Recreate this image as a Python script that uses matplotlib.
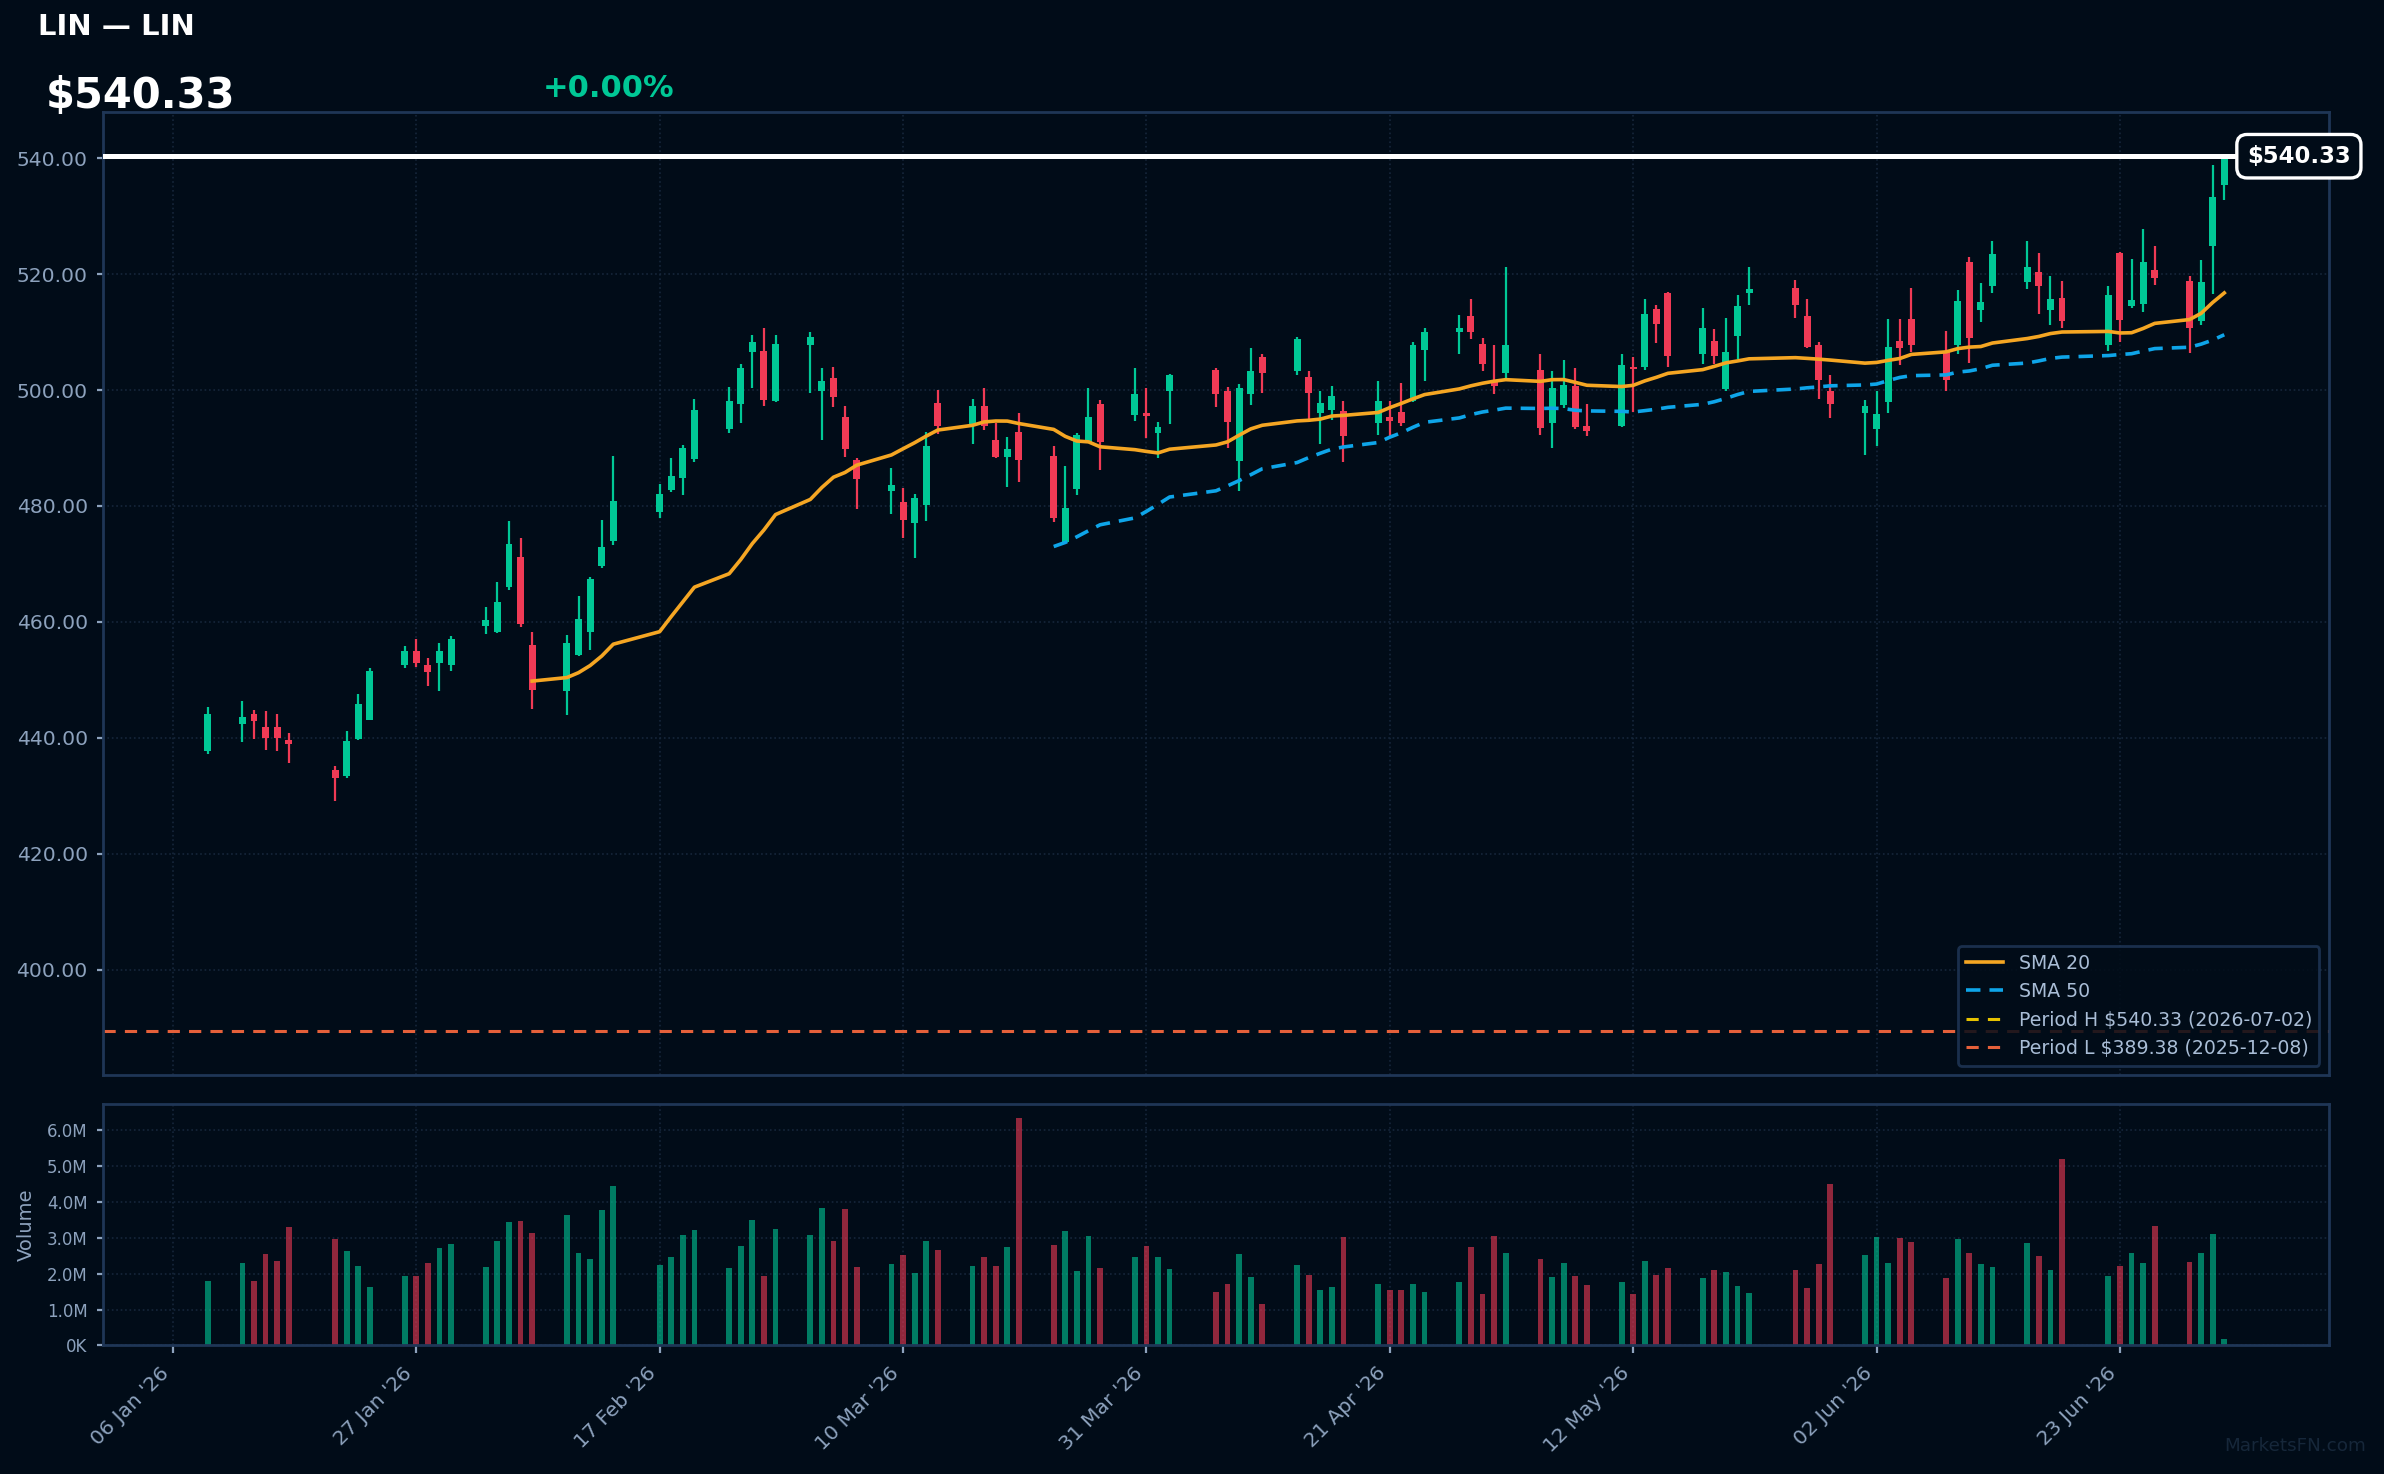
import matplotlib
matplotlib.use("Agg")
import matplotlib.pyplot as plt
import matplotlib.dates as mdates
from matplotlib.ticker import FuncFormatter, MultipleLocator, FixedLocator
from matplotlib.transforms import blended_transform_factory
import numpy as np
import pandas as pd

ticker = "LIN"
change_text = "+0.00%"
period_high = 540.33
period_high_date = "2026-07-02"
period_low = 389.38
period_low_date = "2025-12-08"

# US market holidays inside the window
holidays = ["2026-01-19", "2026-02-16", "2026-04-03", "2026-05-25", "2026-06-19"]
dates = pd.bdate_range("2026-01-09", "2026-07-02", freq="C", holidays=holidays)

opens = [437.68, 442.39, 444.04, 441.94, 441.80, 439.55, 434.39, 433.42, 439.78, 443.14,
         452.49, 455.03, 452.64, 452.86, 452.57, 459.30, 458.25, 466.03, 471.11, 455.93,
         448.08, 454.21, 458.32, 469.69, 474.03, 478.97, 482.71, 484.80, 488.02, 493.33,
         497.52, 506.57, 506.79, 498.12, 507.69, 499.84, 502.15, 495.42, 487.87, 482.56,
         480.76, 477.02, 480.09, 497.82, 494.00, 497.29, 491.31, 488.39, 492.80, 488.69,
         473.73, 482.93, 491.01, 497.52, 495.65, 496.10, 492.58, 499.84, 503.50, 499.76,
         487.72, 499.31, 505.74, 503.35, 502.30, 496.10, 496.47, 496.40, 494.38, 495.35,
         496.25, 498.04, 506.94, 510.01, 512.85, 507.99, 501.33, 502.98, 503.50, 494.38,
         497.37, 500.73, 493.85, 493.78, 504.02, 503.95, 513.90, 516.66, 506.19, 508.51,
         500.13, 509.26, 516.74, 517.56, 512.85, 507.69, 499.84, 496.10, 493.25, 497.89,
         508.51, 512.18, 506.79, 507.69, 522.12, 513.75, 518.01, 518.68, 520.40, 513.75,
         515.92, 507.69, 523.70, 514.42, 514.87, 520.78, 518.83, 511.95, 524.89, 535.36]
highs = [445.24, 446.28, 444.86, 444.56, 444.19, 440.75, 435.21, 441.12, 447.48, 452.12,
         455.78, 457.13, 453.69, 456.30, 457.50, 462.51, 466.93, 477.47, 474.55, 458.17,
         457.65, 464.38, 467.82, 477.62, 488.69, 483.83, 488.32, 490.56, 498.50, 500.58,
         504.55, 509.56, 510.61, 509.56, 510.08, 503.72, 504.02, 497.29, 488.32, 486.60,
         483.16, 482.11, 492.73, 500.06, 498.49, 500.43, 494.38, 491.83, 495.95, 490.41,
         486.97, 492.51, 500.43, 498.34, 503.72, 500.28, 494.45, 502.68, 503.72, 500.58,
         501.03, 507.16, 506.27, 509.18, 503.35, 499.76, 500.73, 498.04, 501.48, 498.04,
         501.26, 508.36, 510.61, 513.00, 515.62, 509.03, 507.69, 521.30, 506.27, 503.20,
         505.22, 503.72, 497.67, 506.27, 505.74, 515.77, 514.72, 516.96, 514.20, 510.46,
         512.48, 516.44, 521.30, 519.06, 515.77, 508.36, 502.60, 498.34, 499.91, 512.18,
         512.18, 517.64, 510.23, 517.19, 522.87, 518.53, 525.79, 525.79, 523.70, 519.58,
         518.83, 518.01, 523.85, 522.65, 527.81, 524.89, 519.73, 522.50, 538.88, 540.33]
lows = [437.16, 439.25, 439.85, 437.83, 437.68, 435.66, 429.08, 433.04, 439.70, 442.99,
        451.97, 452.27, 448.90, 448.08, 451.52, 457.88, 458.10, 465.50, 459.07, 444.94,
        443.89, 454.10, 455.11, 469.24, 473.28, 477.85, 482.33, 481.96, 487.64, 492.51,
        494.23, 500.30, 497.22, 498.00, 499.40, 491.31, 496.99, 488.39, 479.42, 478.59,
        474.48, 471.04, 477.40, 492.36, 490.64, 493.10, 488.24, 483.23, 484.13, 477.25,
        473.36, 481.88, 490.90, 486.15, 494.60, 491.68, 488.24, 494.15, 497.07, 489.96,
        482.56, 497.37, 499.46, 502.60, 494.45, 490.64, 494.75, 487.64, 492.28, 492.13,
        493.78, 497.89, 501.48, 506.27, 508.74, 503.20, 499.39, 502.00, 492.28, 490.04,
        496.84, 493.25, 491.98, 493.63, 496.25, 503.42, 508.06, 503.95, 504.40, 504.55,
        499.84, 505.37, 514.65, 512.40, 507.31, 498.41, 495.12, 488.77, 490.26, 496.02,
        504.32, 506.57, 499.76, 506.19, 504.70, 511.65, 516.81, 517.49, 513.15, 511.13,
        510.76, 506.79, 508.36, 514.12, 513.52, 518.09, 506.42, 511.28, 516.59, 532.74]
closes = [444.19, 443.66, 442.92, 440.05, 439.95, 438.95, 433.04, 439.40, 445.76, 451.59,
          455.03, 452.86, 451.37, 455.03, 456.98, 460.27, 463.49, 473.36, 459.60, 448.23,
          456.30, 460.57, 467.45, 472.83, 480.91, 482.11, 485.25, 490.04, 496.47, 498.04,
          503.87, 508.21, 498.27, 507.99, 509.18, 501.63, 498.86, 489.74, 484.65, 483.53,
          477.62, 481.44, 490.26, 493.78, 497.29, 493.78, 488.39, 489.74, 487.94, 477.92,
          479.72, 492.21, 495.42, 491.01, 499.24, 495.50, 493.70, 502.53, 499.31, 494.45,
          500.36, 503.20, 502.90, 508.74, 499.46, 497.82, 499.01, 491.98, 498.04, 494.60,
          494.38, 507.84, 510.08, 510.61, 509.93, 504.40, 500.73, 507.84, 493.40, 500.28,
          500.81, 493.55, 492.88, 504.25, 503.65, 513.15, 511.35, 505.82, 510.76, 505.82,
          506.49, 514.42, 517.41, 514.65, 507.46, 501.71, 497.59, 497.22, 495.80, 507.46,
          507.16, 507.69, 501.71, 515.39, 508.89, 515.24, 523.40, 521.30, 517.94, 515.77,
          511.88, 516.44, 512.03, 515.54, 522.12, 519.28, 510.76, 518.68, 533.34, 540.33]
# volume in millions of shares
volumes_m = [1.80, 2.30, 1.80, 2.55, 2.35, 3.30, 2.96, 2.63, 2.21, 1.63,
             1.94, 1.94, 2.30, 2.71, 2.82, 2.19, 2.91, 3.44, 3.46, 3.13,
             3.63, 2.57, 2.41, 3.77, 4.44, 2.24, 2.46, 3.07, 3.21, 2.16,
             2.77, 3.49, 1.94, 3.24, 3.07, 3.82, 2.91, 3.80, 2.19, 2.27,
             2.52, 2.02, 2.91, 2.66, 2.21, 2.46, 2.21, 2.74, 6.35, 2.80,
             3.19, 2.07, 3.05, 2.16, 2.46, 2.77, 2.46, 2.13, 1.49, 1.71,
             2.55, 1.91, 1.16, 2.24, 1.96, 1.55, 1.63, 3.02, 1.71, 1.55,
             1.55, 1.71, 1.49, 1.77, 2.74, 1.44, 3.05, 2.57, 2.41, 1.91,
             2.30, 1.94, 1.69, 1.77, 1.44, 2.35, 1.96, 2.16, 1.88, 2.10,
             2.05, 1.66, 1.46, 2.10, 1.60, 2.27, 4.49, 2.52, 3.02, 2.30,
             2.99, 2.88, 1.88, 2.96, 2.57, 2.27, 2.19, 2.85, 2.49, 2.10,
             5.21, 1.94, 2.21, 2.57, 2.30, 3.32, 2.32, 2.57, 3.10, 0.19]

BG = "#010c18"
UP = "#00c896"
DOWN = "#f03a55"
GRID = "#16263a"
SPINE = "#1f3656"
TXT = "#8da2bd"

o = np.array(opens)
h = np.array(highs)
l = np.array(lows)
c = np.array(closes)
vol = np.array(volumes_m) * 1e6
up = c >= o
cols = np.where(up, UP, DOWN)

sma20 = pd.Series(c).rolling(20).mean()
sma50 = pd.Series(c).rolling(50).mean()

fig = plt.figure(figsize=(11.92, 7.37), dpi=200, facecolor=BG)
ax = fig.add_axes([0.0432, 0.2707, 0.9337, 0.653], facecolor=BG)
axv = fig.add_axes([0.0432, 0.0872, 0.9337, 0.1638], facecolor=BG, sharex=ax)

# candles
ax.vlines(dates, l, h, colors=cols, lw=0.8, zorder=3)
body_h = np.maximum(np.abs(c - o), 0.35)
ax.bar(dates, body_h, bottom=np.minimum(o, c), width=0.6, color=cols, zorder=4)

ax.plot(dates, sma20, color="#f5a623", lw=1.3, zorder=5, label="SMA 20")
ax.plot(dates, sma50, color="#0ea5e9", lw=1.3, ls=(0, (4, 2.5)), zorder=5, label="SMA 50")
ax.axhline(period_high, color="#e6c200", lw=1.1, ls=(0, (4, 3)), zorder=2,
           label=f"Period H ${period_high:.2f} ({period_high_date})")
ax.axhline(period_low, color="#e5603a", lw=1.1, ls=(0, (4, 3)), zorder=2,
           label=f"Period L ${period_low:.2f} ({period_low_date})")
last = closes[-1]
ax.axhline(last, color="white", lw=1.8, zorder=6)

span = period_high - period_low
ax.set_ylim(period_low - 0.05 * span, period_high + 0.05 * span)
ax.yaxis.set_major_locator(MultipleLocator(20))
ax.yaxis.set_major_formatter(FuncFormatter(lambda v, p: f"{v:.2f}"))

tr = blended_transform_factory(ax.transAxes, ax.transData)
ax.text(0.9865, last, f"${last:.2f}", transform=tr, ha="center", va="center",
        color="white", fontsize=8.2, fontweight="bold", zorder=10,
        bbox=dict(boxstyle="round,pad=0.45", fc=BG, ec="white", lw=1.2))

leg = ax.legend(loc="lower right", fontsize=6.8, facecolor=BG, edgecolor=SPINE,
                framealpha=0.85, labelcolor="#a9bdd6")

# volume
axv.bar(dates, vol, width=0.5, color=cols, alpha=0.6)
axv.set_ylim(0, vol.max() * 1.06)
axv.yaxis.set_major_locator(MultipleLocator(1e6))
axv.yaxis.set_major_formatter(FuncFormatter(
    lambda v, p: f"{v / 1e6:.1f}M" if v >= 1e6 else f"{v / 1e3:.0f}K"))
axv.set_ylabel("Volume", color=TXT, fontsize=7)

xt = pd.date_range("2026-01-06", periods=9, freq="21D")
axv.xaxis.set_major_locator(FixedLocator(mdates.date2num(xt)))
axv.xaxis.set_major_formatter(mdates.DateFormatter("%d %b '%y"))
for lab in axv.get_xticklabels():
    lab.set_rotation(45)
    lab.set_ha("right")

for a in (ax, axv):
    a.grid(True, color=GRID, ls=":", lw=0.6)
    a.set_axisbelow(True)
    for s in a.spines.values():
        s.set_color(SPINE)
        s.set_linewidth(1.0)
ax.tick_params(axis="y", colors=TXT, labelsize=7.3, length=2)
ax.tick_params(axis="x", length=0, labelbottom=False)
axv.tick_params(axis="y", colors=TXT, labelsize=6, length=2)
axv.tick_params(axis="x", colors=TXT, labelsize=7.3, length=3)

# header
fig.text(0.016, 0.9817, f"{ticker} \u2014 {ticker}", color="white", fontsize=10.5,
         fontweight="bold", va="center")
fig.text(0.0193, 0.935, f"${last:.2f}", color="white", fontsize=15,
         fontweight="bold", va="center")
fig.text(0.2278, 0.940, change_text, color=UP, fontsize=11, fontweight="bold", va="center")
fig.text(0.9925, 0.019, "MarketsFN.com", color="#16273a", fontsize=6.6,
         ha="right", va="center")

fig.savefig("out.png", dpi=200, facecolor=BG)
